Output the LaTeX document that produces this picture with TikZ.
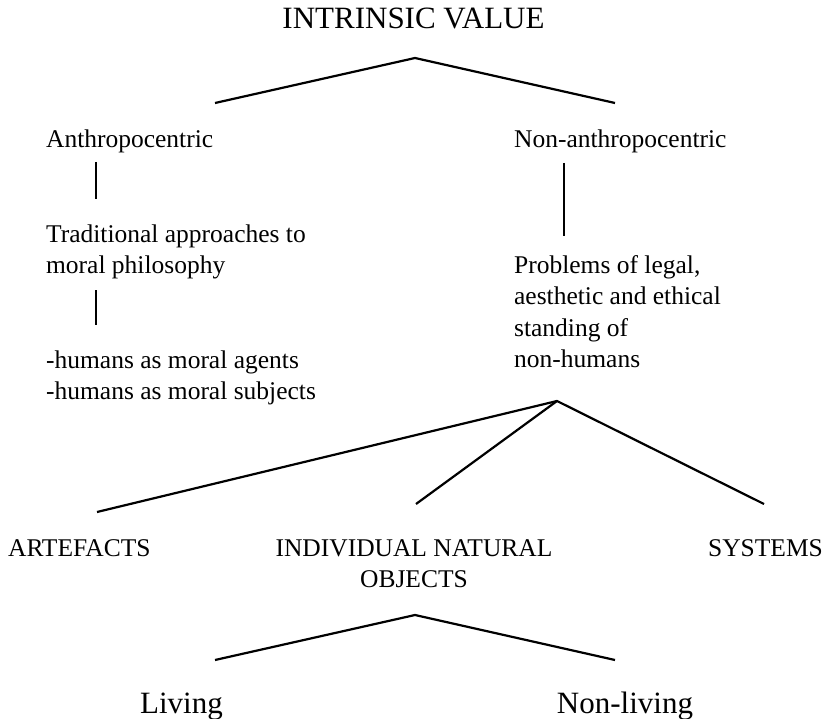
\documentclass[tikz,border=0pt]{standalone}
\usepackage{fontspec}
\setmainfont{Liberation Serif}
\newfontfamily\timesfont{Liberation Serif}
\begin{document}
\begin{tikzpicture}[x=1pt,y=-1pt,line join=round,line width=2.2pt,
  txt/.style={inner sep=0pt,font=\timesfont\fontsize{25.5}{31.6}\selectfont},
  big/.style={inner sep=0pt,font=\timesfont\fontsize{31}{38}\selectfont}]
\useasboundingbox (0,0) rectangle (826,719);

    % multi-line nodes: base is the baseline of the last line
    \node [big,anchor=base] (IV) at (413.5,29) {INTRINSIC VALUE};
    \node [txt,anchor=base west] (An) at (45,147.5) {Anthropocentric};
    \node [txt,anchor=base west] (NAn) at (513,147.5) {Non-anthropocentric};
    \node [txt,anchor=base west,align=left] (Tr) at (45,273.6) {Traditional approaches to\\moral philosophy};
    \node [txt,anchor=base west,align=left] (Hu) at (45,399.6) {-humans as moral agents\\-humans as moral subjects};
    \node [txt,anchor=base west,align=left] (Pr) at (513,367.8) {Problems of legal,\\aesthetic and ethical\\standing of\\non-humans};
    \node [txt,anchor=base west] (Ar) at (7,556) {ARTEFACTS};
    \node [txt,anchor=base,align=center] (In) at (414,587.6) {INDIVIDUAL NATURAL\\OBJECTS};
    \node [txt,anchor=base west] (Sy) at (707,556) {SYSTEMS};
    \node [big,anchor=base] (Li) at (181.5,713) {Living};
    \node [big,anchor=base] (NLi) at (625,713) {Non-living};

    \coordinate (p0IV) at (415,58);
    \coordinate (p1IV) at (215,103);
    \coordinate (p2IV) at (615,103);
    \coordinate (p0An) at (96,162);
    \coordinate (p1An) at (96,199);
    \coordinate (p0Tr) at (96,290);
    \coordinate (p1Tr) at (96,325);
    \coordinate (p0NAn) at (564,163);
    \coordinate (p1NAn) at (564,236);
    \coordinate (p0Pr) at (557,401);
    \coordinate (p1Pr) at (97,512);
    \coordinate (p2Pr) at (416,504);
    \coordinate (p3Pr) at (764,504);
    \coordinate (p0In) at (415,615);
    \coordinate (p1In) at (215,660);
    \coordinate (p2In) at (615,660);

\draw (p1IV)--(p0IV)--(p2IV);
\draw (p0An)--(p1An);
\draw (p0Tr)--(p1Tr);
\draw (p0NAn)--(p1NAn);
\draw (p1Pr)--(p0Pr)--(p3Pr);
\draw (p0Pr)--(p2Pr);
\draw (p1In)--(p0In)--(p2In);
  \end{tikzpicture}
\end{document}
